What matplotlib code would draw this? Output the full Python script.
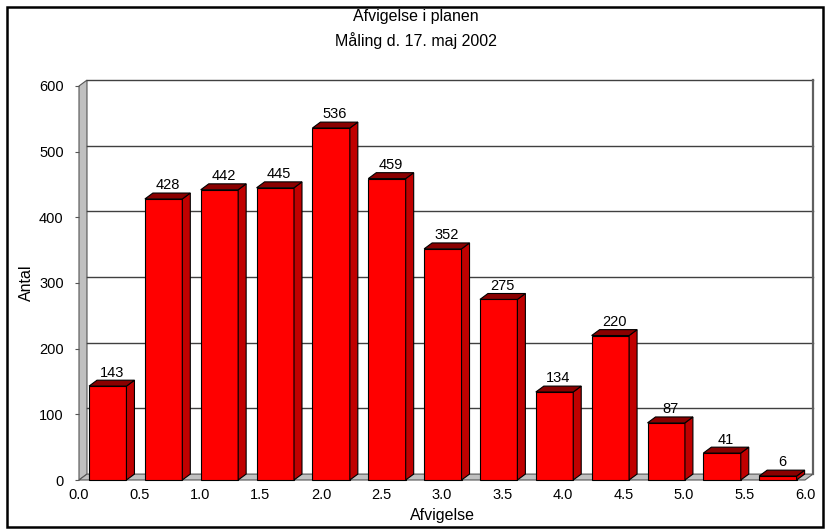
import matplotlib.pyplot as plt
from matplotlib.patches import Polygon, Rectangle

# data: 13 bars sharing an axis labelled 0.0 .. 6.0
counts = [143, 428, 442, 445, 536, 459, 352, 275, 134, 220, 87, 41, 6]
x_ticks = [0.0, 0.5, 1.0, 1.5, 2.0, 2.5, 3.0, 3.5, 4.0, 4.5, 5.0, 5.5, 6.0]
y_ticks = [0, 100, 200, 300, 400, 500, 600]

RED, SIDE, TOP = "#ff0000", "#c00000", "#8a0000"
GRAY = "#c0c0c0"
N = len(counts)
DX, DY = 0.143, 9.0      # depth of the fake 3D, in data units
OFF, W = 0.18, 0.67      # bar offset inside its slot and bar width
FONT = "Liberation Sans"

fig = plt.figure(figsize=(8.28, 5.31), dpi=100)
ax = fig.add_axes([79 / 828, 51 / 531, 726 / 828, 394 / 531])
ax.set_xlim(0, N)
ax.set_ylim(0, 600)
for s in ax.spines.values():
    s.set_visible(False)

# left wall and floor
ax.add_patch(Polygon([(0, 0), (DX, DY), (DX, 600 + DY), (0, 600)], closed=True,
                     facecolor=GRAY, edgecolor="#555555", lw=0.8, clip_on=False, zorder=1))
ax.add_patch(Polygon([(0, 0), (N, 0), (N + DX, DY), (DX, DY)], closed=True,
                     facecolor=GRAY, edgecolor="#555555", lw=0.8, clip_on=False, zorder=1))

# back wall grid
for v in y_ticks[1:]:
    ax.plot([DX, N + DX], [v + DY, v + DY], color="#404040", lw=1.0, clip_on=False, zorder=1)
ax.plot([N + DX, N + DX], [DY, 600 + DY], color="#606060", lw=1.6, clip_on=False, zorder=1)


def bar3d(x0, v):
    x1 = x0 + W
    ax.bar(x0, v, width=W, align="edge", color=RED, edgecolor="black", lw=0.8,
           zorder=3, clip_on=False)
    ax.add_patch(Polygon([(x1, 0), (x1 + DX, DY), (x1 + DX, v + DY), (x1, v)], closed=True,
                         facecolor=SIDE, edgecolor="black", lw=0.8, zorder=3, clip_on=False))
    ax.add_patch(Polygon([(x0, v), (x1, v), (x1 + DX, v + DY), (x0 + DX, v + DY)], closed=True,
                         facecolor=TOP, edgecolor="black", lw=0.8, zorder=3, clip_on=False))
    ax.text(x0 + (W + DX) / 2, v + DY + 1, str(v), ha="center", va="bottom",
            fontsize=10.5, family=FONT, zorder=4)


for i, v in enumerate(counts):
    bar3d(i + OFF, v)

# tick labels are spread evenly over the full width, independent of the bars
ax.set_xticks([t * N / x_ticks[-1] for t in x_ticks])
ax.set_xticklabels([f"{t:.1f}" for t in x_ticks], family=FONT, fontsize=10.5)
ax.set_yticks(y_ticks)
ax.set_yticklabels([str(t) for t in y_ticks], family=FONT, fontsize=10.5)
ax.tick_params(axis="x", length=0, pad=6)
ax.tick_params(axis="y", length=3, pad=8, color="#555555")

ax.set_xlabel("Afvigelse", family=FONT, fontsize=11.5, labelpad=4)
ax.set_ylabel("Antal", family=FONT, fontsize=11.5, labelpad=4)
fig.text(0.502, 1 - 17 / 531, "Afvigelse i planen", ha="center", va="center",
         family=FONT, fontsize=11.5)
fig.text(0.502, 1 - 41 / 531, "Måling d. 17. maj 2002", ha="center", va="center",
         family=FONT, fontsize=11.5)

fig.patches.append(Rectangle((7 / 828, 4 / 531), 816 / 828, 520 / 531, transform=fig.transFigure,
                             fill=False, edgecolor="black", lw=1.8))

fig.savefig("out.png", dpi=100, facecolor="white")
